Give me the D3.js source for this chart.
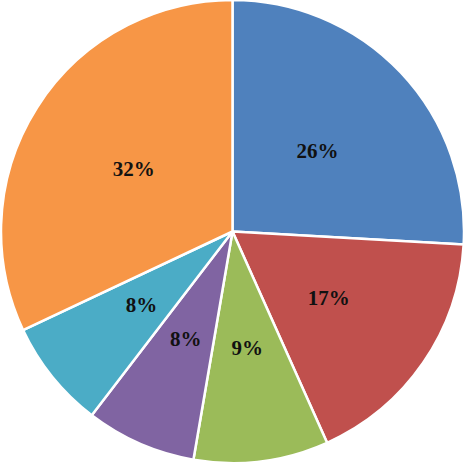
<!DOCTYPE html>
<html><head><meta charset="utf-8">
<script src="https://cdn.jsdelivr.net/npm/d3@7"></script>
<style>html,body{margin:0;padding:0;background:#fff;}svg{display:block;}</style>
</head><body>
<svg id="c" width="466" height="464"></svg>
<script>
const categories = ["A", "B", "C", "D", "E", "F"];
const values = [25.9, 17.4, 9.4, 7.7, 7.6, 32.0];
const colors = ["#4F81BD", "#C0504D", "#9BBB59", "#8064A2", "#4BACC6", "#F79646"];

const svg = d3.select("#c");
const cx = 232.5, cy = 231.5, R = 231.5;
const g = svg.append("g").attr("transform", `translate(${cx},${cy})`);
const data = categories.map((c, i) => ({cat: c, value: values[i], color: colors[i]}));
const pie = d3.pie().value(d => d.value).sort(null);
const arcs = pie(data);
const arc = d3.arc().innerRadius(0).outerRadius(R);
const labelArc = d3.arc().innerRadius(117).outerRadius(117);
const total = d3.sum(values);

g.selectAll("path").data(arcs).join("path")
  .attr("d", arc)
  .attr("fill", d => d.data.color)
  .attr("stroke", "#fff")
  .attr("stroke-width", 2.5)
  .attr("stroke-linejoin", "round");

g.selectAll("text").data(arcs).join("text")
  .attr("transform", d => `translate(${labelArc.centroid(d)})`)
  .attr("text-anchor", "middle")
  .attr("dy", "0.35em")
  .attr("font-family", "'Liberation Serif', 'Times New Roman', serif")
  .attr("font-weight", "bold")
  .attr("font-size", 21)
  .attr("fill", "#111")
  .text(d => Math.round(d.data.value / total * 100) + "%");
</script>
</body></html>
